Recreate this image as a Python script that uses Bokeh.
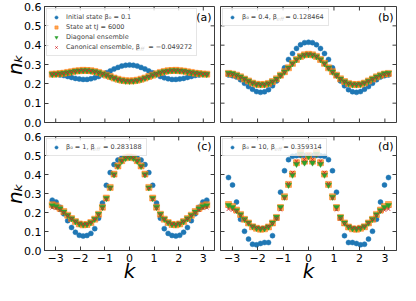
import math
from bokeh.plotting import figure
from bokeh.models import (LinearAxis, FixedTicker, Range1d, Legend, LegendItem, Label,
                          CustomJSTickFormatter, ColumnDataSource)
from bokeh.layouts import column, row
from bokeh.embed import file_html
from bokeh.resources import INLINE

# ---------------- data ----------------
n_index = list(range(-20, 21))
k_values = [2 * math.pi * m / 40 for m in n_index]

x_ticks = [-3, -2, -1, 0, 1, 2, 3]
x_tick_labels = ["−3", "−2", "−1", "0", "1", "2", "3"]
y_ticks = [0.0, 0.1, 0.2, 0.3, 0.4, 0.5, 0.6]
y_tick_labels = ["0.0", "0.1", "0.2", "0.3", "0.4", "0.5", "0.6"]

panel_tags = ["(a)", "(b)", "(c)", "(d)"]
beta0_values = ["0.1", "0.4", "1", "10"]
beta_eff_values = ["−0.049272", "0.128464", "0.283188", "0.359314"]
series_names = ["Initial state", "State at tJ = 6000", "Diagonal ensemble", "Canonical ensemble"]

initial_a = [0.250, 0.249, 0.246, 0.243, 0.238, 0.233, 0.228, 0.225, 0.223, 0.223, 0.226, 0.231, 0.238, 0.247, 0.257, 0.267, 0.277, 0.285, 0.292, 0.296, 0.298, 0.296, 0.292, 0.285, 0.277, 0.267, 0.257, 0.247, 0.238, 0.231, 0.226, 0.223, 0.223, 0.225, 0.228, 0.233, 0.238, 0.243, 0.246, 0.249, 0.250]
tstate_a = [0.250, 0.251, 0.253, 0.255, 0.259, 0.262, 0.266, 0.268, 0.270, 0.269, 0.268, 0.264, 0.259, 0.252, 0.245, 0.238, 0.230, 0.224, 0.219, 0.216, 0.215, 0.216, 0.219, 0.224, 0.230, 0.238, 0.245, 0.252, 0.259, 0.264, 0.268, 0.269, 0.270, 0.268, 0.266, 0.262, 0.259, 0.255, 0.253, 0.251, 0.250]
diag_a = [0.250, 0.251, 0.253, 0.256, 0.259, 0.262, 0.266, 0.268, 0.269, 0.269, 0.267, 0.264, 0.259, 0.252, 0.245, 0.237, 0.230, 0.223, 0.218, 0.215, 0.214, 0.215, 0.218, 0.223, 0.230, 0.237, 0.245, 0.252, 0.259, 0.264, 0.267, 0.269, 0.269, 0.268, 0.266, 0.262, 0.259, 0.256, 0.253, 0.251, 0.250]
canon_a = [0.250, 0.251, 0.252, 0.255, 0.258, 0.262, 0.265, 0.268, 0.269, 0.268, 0.267, 0.263, 0.258, 0.252, 0.245, 0.238, 0.231, 0.224, 0.219, 0.216, 0.215, 0.216, 0.219, 0.224, 0.231, 0.238, 0.245, 0.252, 0.258, 0.263, 0.267, 0.268, 0.269, 0.268, 0.265, 0.262, 0.258, 0.255, 0.252, 0.251, 0.250]

initial_b = [0.246, 0.242, 0.235, 0.221, 0.203, 0.186, 0.172, 0.160, 0.156, 0.159, 0.170, 0.190, 0.215, 0.245, 0.283, 0.326, 0.357, 0.383, 0.402, 0.413, 0.415, 0.413, 0.402, 0.383, 0.357, 0.326, 0.283, 0.245, 0.215, 0.190, 0.170, 0.159, 0.156, 0.160, 0.172, 0.186, 0.203, 0.221, 0.235, 0.242, 0.246]
tstate_b = [0.254, 0.251, 0.245, 0.236, 0.225, 0.215, 0.204, 0.198, 0.196, 0.197, 0.202, 0.212, 0.226, 0.245, 0.263, 0.283, 0.306, 0.326, 0.342, 0.350, 0.353, 0.350, 0.342, 0.326, 0.306, 0.283, 0.263, 0.245, 0.226, 0.212, 0.202, 0.197, 0.196, 0.198, 0.204, 0.215, 0.225, 0.236, 0.245, 0.251, 0.254]
diag_b = [0.256, 0.253, 0.246, 0.237, 0.226, 0.215, 0.205, 0.198, 0.196, 0.197, 0.202, 0.212, 0.226, 0.244, 0.262, 0.283, 0.305, 0.326, 0.341, 0.349, 0.352, 0.349, 0.341, 0.326, 0.305, 0.283, 0.262, 0.244, 0.226, 0.212, 0.202, 0.197, 0.196, 0.198, 0.205, 0.215, 0.226, 0.237, 0.246, 0.253, 0.256]
canon_b = [0.251, 0.249, 0.243, 0.234, 0.224, 0.214, 0.205, 0.199, 0.197, 0.198, 0.202, 0.211, 0.224, 0.241, 0.260, 0.281, 0.304, 0.325, 0.342, 0.351, 0.354, 0.351, 0.342, 0.325, 0.304, 0.281, 0.260, 0.241, 0.224, 0.211, 0.202, 0.198, 0.197, 0.199, 0.205, 0.214, 0.224, 0.234, 0.243, 0.249, 0.251]

initial_c = [0.265, 0.255, 0.228, 0.193, 0.157, 0.121, 0.096, 0.080, 0.076, 0.079, 0.090, 0.115, 0.170, 0.250, 0.343, 0.410, 0.452, 0.476, 0.487, 0.491, 0.492, 0.491, 0.487, 0.476, 0.452, 0.410, 0.343, 0.250, 0.170, 0.115, 0.090, 0.079, 0.076, 0.080, 0.096, 0.121, 0.157, 0.193, 0.228, 0.255, 0.265]
tstate_c = [0.241, 0.235, 0.222, 0.205, 0.186, 0.168, 0.152, 0.140, 0.135, 0.137, 0.147, 0.165, 0.191, 0.228, 0.276, 0.332, 0.402, 0.445, 0.473, 0.488, 0.492, 0.488, 0.473, 0.445, 0.402, 0.332, 0.276, 0.228, 0.191, 0.165, 0.147, 0.137, 0.135, 0.140, 0.152, 0.168, 0.186, 0.205, 0.222, 0.235, 0.241]
diag_c = [0.237, 0.232, 0.220, 0.204, 0.186, 0.168, 0.153, 0.141, 0.136, 0.138, 0.148, 0.166, 0.192, 0.228, 0.275, 0.331, 0.400, 0.444, 0.471, 0.486, 0.490, 0.486, 0.471, 0.444, 0.400, 0.331, 0.275, 0.228, 0.192, 0.166, 0.148, 0.138, 0.136, 0.141, 0.153, 0.168, 0.186, 0.204, 0.220, 0.232, 0.237]
canon_c = [0.226, 0.222, 0.212, 0.199, 0.183, 0.167, 0.153, 0.143, 0.138, 0.140, 0.148, 0.165, 0.188, 0.222, 0.270, 0.328, 0.398, 0.443, 0.472, 0.490, 0.495, 0.490, 0.472, 0.443, 0.398, 0.328, 0.270, 0.222, 0.188, 0.165, 0.148, 0.140, 0.138, 0.143, 0.153, 0.167, 0.183, 0.199, 0.212, 0.222, 0.226]

initial_d = [0.384, 0.345, 0.255, 0.164, 0.101, 0.060, 0.033, 0.030, 0.037, 0.042, 0.042, 0.078, 0.170, 0.307, 0.420, 0.478, 0.496, 0.499, 0.500, 0.500, 0.500, 0.500, 0.500, 0.499, 0.496, 0.478, 0.420, 0.307, 0.170, 0.078, 0.042, 0.042, 0.037, 0.030, 0.033, 0.060, 0.101, 0.164, 0.255, 0.345, 0.384]
tstate_d = [0.242, 0.231, 0.213, 0.190, 0.164, 0.145, 0.125, 0.117, 0.112, 0.114, 0.124, 0.145, 0.174, 0.226, 0.283, 0.348, 0.402, 0.462, 0.515, 0.470, 0.500, 0.470, 0.515, 0.462, 0.402, 0.348, 0.283, 0.226, 0.174, 0.145, 0.124, 0.114, 0.112, 0.117, 0.125, 0.145, 0.164, 0.190, 0.213, 0.231, 0.242]
diag_d = [0.238, 0.228, 0.211, 0.189, 0.165, 0.146, 0.127, 0.118, 0.114, 0.116, 0.125, 0.146, 0.176, 0.228, 0.282, 0.345, 0.398, 0.455, 0.508, 0.462, 0.495, 0.462, 0.508, 0.455, 0.398, 0.345, 0.282, 0.228, 0.176, 0.146, 0.125, 0.116, 0.114, 0.118, 0.127, 0.146, 0.165, 0.189, 0.211, 0.228, 0.238]
canon_d = [0.218, 0.213, 0.205, 0.185, 0.163, 0.145, 0.128, 0.121, 0.118, 0.120, 0.127, 0.142, 0.168, 0.215, 0.276, 0.352, 0.410, 0.470, 0.503, 0.478, 0.505, 0.478, 0.503, 0.470, 0.410, 0.352, 0.276, 0.215, 0.168, 0.142, 0.127, 0.120, 0.118, 0.121, 0.128, 0.145, 0.163, 0.185, 0.205, 0.213, 0.218]

# ---------------- style ----------------
BLUE, ORANGE, GREEN, RED = "#1f77b4", "#ff7f0e", "#2ca02c", "#d62728"
AXC = "#3c3c3c"
FONT = "DejaVu Sans"
X_MIN, X_MAX = -3.456, 3.456
Y_MIN, Y_MAX = 0.0, 0.6
FRAME_W, FRAME_H = 176, 116
TICK_PX = 4
NBSP3 = "\u00a0\u00a0\u00a0"

# px offsets (from frame left / frame top) of each legend's "eff" subscript
eff_x_px = [95.5, 56, 50, 54]
eff_row_px = [42.5, 12.5, 12.5, 12.5]


def px_x(d):
    return X_MIN + d * (X_MAX - X_MIN) / FRAME_W


def px_y_top(d):
    return Y_MAX - d * (Y_MAX - Y_MIN) / FRAME_H


def fmt(ticks, labels):
    return CustomJSTickFormatter(args=dict(tv=ticks, tl=labels), code="""
        for (let i = 0; i < tv.length; i++) {
            if (Math.abs(tv[i] - tick) < 1e-9) { return tl[i]; }
        }
        return "";
    """)


def make_panel(i, initial, tstate, diag, canon, left_lab, bottom_lab):
    left = 38 if left_lab else 3
    right = 3 if left_lab else 4
    top = 6 if not bottom_lab else 7
    bottom = 33 if bottom_lab else 7
    p = figure(width=left + FRAME_W + right, height=top + FRAME_H + bottom,
               x_range=Range1d(X_MIN, X_MAX), y_range=Range1d(Y_MIN, Y_MAX),
               output_backend="svg", toolbar_location=None,
               x_axis_location=None, y_axis_location=None,
               min_border_left=left, min_border_right=right,
               min_border_top=top, min_border_bottom=bottom,
               background_fill_color="white", border_fill_color="white")
    p.xgrid.grid_line_color = None
    p.ygrid.grid_line_color = None
    p.outline_line_color = AXC
    p.outline_line_width = 1

    def add_axis(loc, is_x, title):
        ticks = x_ticks if is_x else y_ticks
        labels = x_tick_labels if is_x else y_tick_labels
        ax = LinearAxis(ticker=FixedTicker(ticks=ticks), formatter=fmt(ticks, labels))
        ax.major_tick_in = TICK_PX
        ax.major_tick_out = 0
        ax.minor_tick_in = 0
        ax.minor_tick_out = 0
        ax.axis_line_color = AXC
        ax.major_tick_line_color = AXC
        ax.major_label_text_font = FONT
        ax.major_label_text_font_size = "11px"
        ax.major_label_text_color = "black"
        ax.major_label_standoff = 3
        ax.axis_label = title
        ax.axis_label_text_font = FONT
        ax.axis_label_text_font_style = "italic"
        ax.axis_label_text_font_size = "20px"
        ax.axis_label_text_color = "black"
        ax.axis_label_standoff = -6
        p.add_layout(ax, loc)

    # inward tick marks on the unlabeled sides
    tx = TICK_PX * (X_MAX - X_MIN) / FRAME_W
    ty = TICK_PX * (Y_MAX - Y_MIN) / FRAME_H
    nx, ny = len(x_ticks), len(y_ticks)
    tick_style = dict(line_color=AXC, line_width=1)
    p.segment(x0=x_ticks, y0=[Y_MAX] * nx, x1=x_ticks, y1=[Y_MAX - ty] * nx, **tick_style)
    p.segment(x0=[X_MAX] * ny, y0=y_ticks, x1=[X_MAX - tx] * ny, y1=y_ticks, **tick_style)
    if left_lab:
        add_axis("left", False, "nₖ")
    else:
        p.segment(x0=[X_MIN] * ny, y0=y_ticks, x1=[X_MIN + tx] * ny, y1=y_ticks, **tick_style)
    if bottom_lab:
        add_axis("below", True, "k")
    else:
        p.segment(x0=x_ticks, y0=[Y_MIN] * nx, x1=x_ticks, y1=[Y_MIN + ty] * nx, **tick_style)

    src = ColumnDataSource(dict(k=k_values, initial=initial, tstate=tstate, diag=diag, canon=canon))
    r1 = p.scatter("k", "initial", source=src, marker="circle", size=5,
                   fill_color=BLUE, line_color=BLUE, line_width=0.5)
    r2 = p.scatter("k", "tstate", source=src, marker="square", size=6,
                   fill_color=ORANGE, fill_alpha=0.7, line_color=ORANGE, line_alpha=0.5)
    r3 = p.scatter("k", "diag", source=src, marker="inverted_triangle", size=6,
                   fill_color=GREEN, line_color=GREEN, line_width=0.5)
    r4 = p.scatter("k", "canon", source=src, marker="x", size=5,
                   line_color=RED, line_width=1, line_alpha=0.9)

    if i == 0:
        items = [
            LegendItem(label=f"{series_names[0]} β₀ = {beta0_values[0]}", renderers=[r1]),
            LegendItem(label=series_names[1], renderers=[r2]),
            LegendItem(label=series_names[2], renderers=[r3]),
            LegendItem(label=f"{series_names[3]}, β{NBSP3} = {beta_eff_values[0]}", renderers=[r4]),
        ]
    else:
        items = [LegendItem(label=f"β₀ = {beta0_values[i]}, β{NBSP3} = {beta_eff_values[i]}",
                            renderers=[r1])]
    leg = Legend(items=items, location="top_left", margin=2, padding=4, spacing=2,
                 label_height=8, glyph_height=8, glyph_width=10, label_standoff=5,
                 label_text_font=FONT, label_text_font_size="6.5px",
                 border_line_color="#cccccc", border_line_width=1,
                 background_fill_color="white", background_fill_alpha=0.8)
    p.add_layout(leg)

    p.add_layout(Label(x=px_x(eff_x_px[i]), y=px_y_top(eff_row_px[i]), text="eff",
                       text_font=FONT, text_font_size="5.5px", text_font_style="italic",
                       text_baseline="middle", text_align="left", text_color="#111111"))

    p.add_layout(Label(x=px_x(FRAME_W - 3), y=px_y_top(4), text=panel_tags[i],
                       text_font=FONT, text_font_size="11px", text_align="right",
                       text_baseline="top", text_color="black"))
    return p


pa = make_panel(0, initial_a, tstate_a, diag_a, canon_a, True, False)
pb = make_panel(1, initial_b, tstate_b, diag_b, canon_b, False, False)
pc = make_panel(2, initial_c, tstate_c, diag_c, canon_c, True, True)
pd = make_panel(3, initial_d, tstate_d, diag_d, canon_d, False, True)

layout = column(row(pa, pb), row(pc, pd))

open("out.html", "w").write(file_html(layout, INLINE))
